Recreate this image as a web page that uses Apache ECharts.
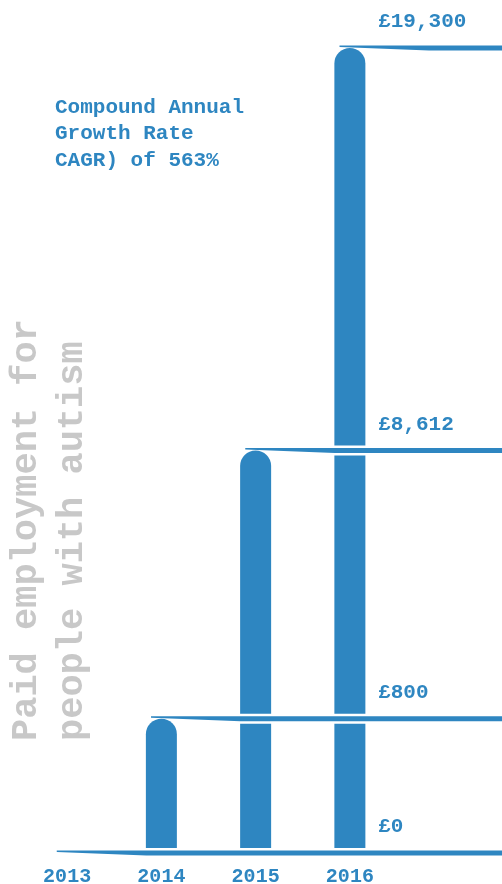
<!DOCTYPE html>
<html>
<head>
<meta charset="utf-8">
<script src="https://cdn.jsdelivr.net/npm/echarts@6/dist/echarts.min.js"></script>
<style>
html,body{margin:0;padding:0;background:#fff;}
#chart{width:502px;height:884px;}
</style>
</head>
<body>
<div id="chart"></div>
<script>
// ---- data ----
const years = ['2013', '2014', '2015', '2016'];
const amounts = [0, 800, 8612, 19300];          // £ values shown on labels
const barLevels = [0, 1, 3, 6];                 // visual bar heights (infographic is not to scale)
const titleLines = ['Paid employment for', 'people with autism'];
const noteLines = ['Compound Annual', 'Growth Rate', 'CAGR) of 563%'];

const BLUE = '#2e86c1';
const GREY = '#c8c8c8';
const FONT = '"Liberation Mono", "DejaVu Sans Mono", monospace';

function fmt(v) {
  return '£' + String(v).replace(/\B(?=(\d{3})+(?!\d))/g, ',');
}

const chart = echarts.init(document.getElementById('chart'), null, {renderer: 'canvas'});

const lineData = years.map((y, i) => [i, barLevels[i]]);

const option = {
  animation: false,
  backgroundColor: '#fff',
  grid: {left: 20, right: 105, top: 48, bottom: 31, containLabel: false, outerBoundsMode: 'none'},
  xAxis: {
    type: 'category',
    data: years,
    boundaryGap: true,
    axisLine: {show: false},
    axisTick: {show: false},
    axisLabel: {color: BLUE, fontFamily: FONT, fontWeight: 'bold', fontSize: 20, margin: 14}
  },
  yAxis: {type: 'value', min: 0, max: 6, show: false, splitLine: {show: false}},
  series: [
    {
      type: 'bar',
      data: barLevels,
      barWidth: 31,
      itemStyle: {color: BLUE, borderRadius: [15.5, 15.5, 4, 4]},
      z: 2
    },
    {
      type: 'custom',
      data: lineData,
      z: 3,
      renderItem: function (params, api) {
        const i = api.value(0), lvl = api.value(1);
        const p = api.coord([i, lvl]);
        const bw = api.size([1, 0])[0];
        const cx = p[0], y = p[1];
        const xs = cx - 0.11 * bw, xe = cx + 0.84 * bw, R = api.getWidth();
        const lx = api.coord([years.length - 1, lvl])[0] + 0.30 * bw;
        return {
          type: 'group',
          children: [
            {type: 'rect', shape: {x: xe - 3, y: y - 5, width: R - xe + 3, height: 10}, style: {fill: '#fff'}},
            {type: 'polygon', shape: {points: [[xs, y - 2.5], [R, y - 2.5], [R, y + 2.5], [xe, y + 2.5], [xs, y - 1]]}, style: {fill: BLUE}},
            {type: 'text', x: lx, y: y - 26, style: {text: fmt(amounts[i]), fill: BLUE, font: 'bold 21px ' + FONT, textAlign: 'left', textVerticalAlign: 'middle'}}
          ]
        };
      }
    }
  ],
  graphic: [
    {
      type: 'text', left: 55, top: 94,
      style: {text: noteLines.join('\n'), fill: BLUE, font: 'bold 21px ' + FONT, lineHeight: 26.5}
    },
    {
      type: 'text', x: 50, y: 741, rotation: Math.PI / 2,
      style: {text: titleLines.join('\n'), fill: GREY, font: 'bold 37px ' + FONT, lineHeight: 46, textAlign: 'left', textVerticalAlign: 'middle'}
    }
  ]
};
chart.setOption(option);
</script>
</body>
</html>
